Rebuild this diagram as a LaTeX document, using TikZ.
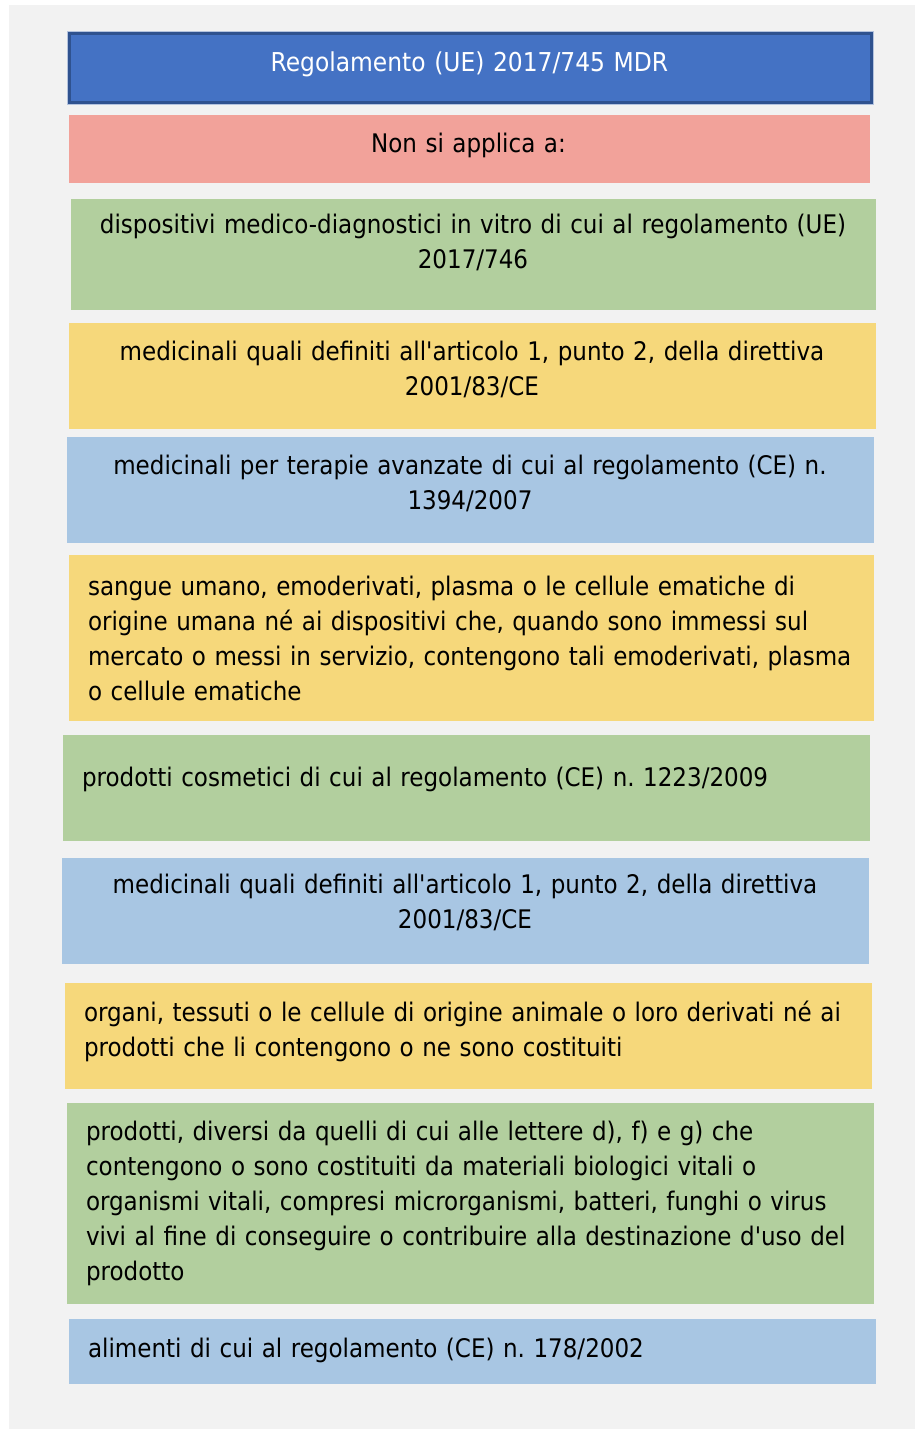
\documentclass[tikz,border=0pt]{standalone}
\usepackage{fontspec}
\newfontfamily\tahlike{DejaVu Sans Condensed}
\definecolor{bggray}{HTML}{F2F2F2}
\definecolor{titlefill}{HTML}{4472C4}
\definecolor{titleborder}{HTML}{2F528F}
\definecolor{titleouter}{HTML}{B4C3DE}
\definecolor{pinkfill}{HTML}{F2A29A}
\definecolor{greenfill}{HTML}{B2CF9E}
\definecolor{yellowfill}{HTML}{F6D87B}
\definecolor{bluefill}{HTML}{A8C6E3}
\frenchspacing
\begin{document}
\begin{tikzpicture}[x=1pt,y=-1pt,
  box/.style={inner sep=0pt, outer sep=0pt, anchor=north west, draw=none},
  txt/.style={inner sep=0pt, outer sep=0pt, text width=800pt,
    font=\tahlike\fontsize{25.6}{35}\selectfont\frenchspacing, text=black},
  ctxt/.style={txt, align=center, anchor=base},
  ltxt/.style={txt, align=left, anchor=base west}]
\useasboundingbox (0,0) rectangle (915,1429);
\fill[white] (0,0) rectangle (915,1429);
\fill[bggray] (9,5) rectangle (915,1429);

% boxes
\node[box, fill=titlefill, draw=titleborder, line width=3pt,
  minimum width=802pt, minimum height=69pt] (b1) at (69.5,33.5) {};
\draw[titleouter, line width=1pt]
  ([xshift=-2pt,yshift=2pt]b1.north west) rectangle ([xshift=2pt,yshift=-2pt]b1.south east);
\node[box, fill=pinkfill,   minimum width=801pt, minimum height=68pt]  (b2)  at (69,115) {};
\node[box, fill=greenfill,  minimum width=805pt, minimum height=111pt] (b3)  at (71,199) {};
\node[box, fill=yellowfill, minimum width=807pt, minimum height=106pt] (b4)  at (69,323) {};
\node[box, fill=bluefill,   minimum width=807pt, minimum height=106pt] (b5)  at (67,437) {};
\node[box, fill=yellowfill, minimum width=805pt, minimum height=166pt] (b6)  at (69,555) {};
\node[box, fill=greenfill,  minimum width=807pt, minimum height=106pt] (b7)  at (63,735) {};
\node[box, fill=bluefill,   minimum width=807pt, minimum height=106pt] (b8)  at (62,858) {};
\node[box, fill=yellowfill, minimum width=807pt, minimum height=106pt] (b9)  at (65,983) {};
\node[box, fill=greenfill,  minimum width=807pt, minimum height=201pt] (b10) at (67,1103) {};
\node[box, fill=bluefill,   minimum width=807pt, minimum height=65pt]  (b11) at (69,1319) {};

% texts
\node[ctxt, text=white, font=\tahlike\fontsize{26}{35}\selectfont] (t1) at (469.5,71) {Regolamento (UE) 2017/745 MDR};
\node[ctxt] (t2) at (468.5,152) {Non si applica a:};
\node[ctxt] (t3) at (473,233) {dispositivi medico-diagnostici in vitro di cui al regolamento (UE)\\2017/746};
\node[ctxt] (t4) at (472,360) {medicinali quali definiti all'articolo 1, punto 2, della direttiva\\2001/83/CE};
\node[ctxt] (t5) at (470,474) {medicinali per terapie avanzate di cui al regolamento (CE) n.\\1394/2007};
\node[ltxt] (t6) at (88,595) {sangue umano, emoderivati, plasma o le cellule ematiche di\\origine umana né ai dispositivi che, quando sono immessi sul\\mercato o messi in servizio, contengono tali emoderivati, plasma\\o cellule ematiche};
\node[ltxt] (t7) at (82,786) {prodotti cosmetici di cui al regolamento (CE) n. 1223/2009};
\node[ctxt] (t8) at (465,893) {medicinali quali definiti all'articolo 1, punto 2, della direttiva\\2001/83/CE};
\node[ltxt] (t9) at (84,1021) {organi, tessuti o le cellule di origine animale o loro derivati né ai\\prodotti che li contengono o ne sono costituiti};
\node[ltxt] (t10) at (86,1140) {prodotti, diversi da quelli di cui alle lettere d), f) e g) che\\contengono o sono costituiti da materiali biologici vitali o\\organismi vitali, compresi microrganismi, batteri, funghi o virus\\vivi al fine di conseguire o contribuire alla destinazione d'uso del\\prodotto};
\node[ltxt] (t11) at (88,1357) {alimenti di cui al regolamento (CE) n. 178/2002};
\end{tikzpicture}
\end{document}
